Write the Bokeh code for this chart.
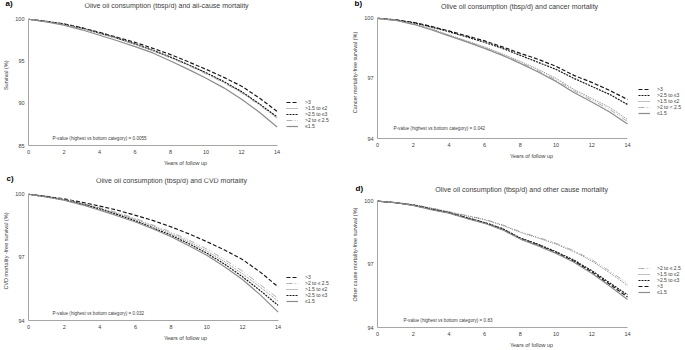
from bokeh.plotting import figure
from bokeh.models import Range1d, FixedTicker, Label, Legend, LegendItem, ColumnDataSource, Title
from bokeh.layouts import column, row
from bokeh.embed import file_html
from bokeh.resources import INLINE

years = list(range(0, 15))

# Panel a: all-cause mortality
a_gt3 = [100, 99.75, 99.45, 99.0, 98.45, 97.85, 97.25, 96.55, 95.8, 94.95, 94.05, 93.1, 92.05, 90.65, 89.05]
a_gt15_2 = [100, 99.75, 99.4, 98.95, 98.4, 97.8, 97.1, 96.35, 95.5, 94.6, 93.6, 92.55, 91.35, 89.9, 88.3]
a_gt25_3 = [100, 99.75, 99.4, 98.95, 98.35, 97.75, 97.05, 96.3, 95.5, 94.6, 93.65, 92.6, 91.4, 89.95, 88.4]
a_gt2_25 = [100, 99.72, 99.35, 98.9, 98.3, 97.7, 97.0, 96.25, 95.4, 94.5, 93.5, 92.45, 91.25, 89.8, 88.25]
a_le15 = [100, 99.7, 99.3, 98.75, 98.1, 97.45, 96.75, 96.0, 95.05, 94.05, 93.0, 91.85, 90.5, 88.95, 87.2]

# Panel b: cancer mortality
b_gt3 = [100, 99.92, 99.8, 99.6, 99.37, 99.12, 98.87, 98.57, 98.25, 97.95, 97.6, 97.15, 96.8, 96.4, 95.95]
b_gt25_3 = [100, 99.92, 99.78, 99.57, 99.33, 99.07, 98.8, 98.5, 98.15, 97.8, 97.45, 97.0, 96.6, 96.2, 95.7]
b_gt15_2 = [100, 99.9, 99.73, 99.48, 99.17, 98.87, 98.57, 98.22, 97.85, 97.45, 97.0, 96.45, 96.0, 95.55, 94.95]
b_gt2_25 = [100, 99.9, 99.72, 99.46, 99.15, 98.85, 98.54, 98.18, 97.8, 97.38, 96.92, 96.38, 95.92, 95.45, 94.85]
b_le15 = [100, 99.9, 99.7, 99.43, 99.12, 98.82, 98.5, 98.15, 97.75, 97.32, 96.85, 96.3, 95.82, 95.32, 94.72]

# Panel c: CVD mortality
c_gt3 = [100, 99.9, 99.78, 99.62, 99.44, 99.24, 99.0, 98.75, 98.45, 98.12, 97.75, 97.35, 96.9, 96.3, 95.6]
c_gt2_25 = [100, 99.9, 99.76, 99.58, 99.36, 99.12, 98.85, 98.53, 98.2, 97.82, 97.4, 96.9, 96.35, 95.7, 95.05]
c_gt15_2 = [100, 99.9, 99.75, 99.56, 99.33, 99.08, 98.8, 98.48, 98.13, 97.74, 97.3, 96.8, 96.22, 95.58, 94.92]
c_gt25_3 = [100, 99.88, 99.73, 99.53, 99.3, 99.03, 98.74, 98.4, 98.05, 97.65, 97.2, 96.68, 96.08, 95.42, 94.72]
c_le15 = [100, 99.87, 99.72, 99.5, 99.24, 98.97, 98.68, 98.35, 97.98, 97.55, 97.1, 96.55, 95.95, 95.22, 94.4]

# Panel d: other cause mortality
d_gt2_25 = [100, 99.93, 99.84, 99.68, 99.5, 99.32, 99.14, 98.88, 98.55, 98.28, 98.0, 97.65, 97.22, 96.68, 96.1]
d_gt15_2 = [100, 99.93, 99.83, 99.67, 99.49, 99.3, 99.12, 98.85, 98.52, 98.25, 97.96, 97.6, 97.16, 96.6, 96.0]
d_gt25_3 = [100, 99.93, 99.82, 99.63, 99.46, 99.22, 98.99, 98.7, 98.25, 97.95, 97.6, 97.2, 96.7, 96.12, 95.55]
d_gt3 = [100, 99.93, 99.81, 99.62, 99.45, 99.2, 98.97, 98.67, 98.22, 97.92, 97.56, 97.15, 96.64, 96.05, 95.45]
d_le15 = [100, 99.93, 99.8, 99.6, 99.43, 99.18, 98.95, 98.64, 98.2, 97.88, 97.52, 97.1, 96.58, 95.97, 95.33]

x_ticks = [0, 2, 4, 6, 8, 10, 12, 14]
a_yticks = [85, 90, 95, 100]
bcd_yticks = [94, 97, 100]

FONT = "Liberation Sans"
TXT = "#404040"

STYLES = {
    "gt3": dict(color="#1a1a1a", dash="4 2", width=1.2),
    "gt25_3": dict(color="#1a1a1a", dash="2 1", width=1.2),
    "gt15_2": dict(color="#808080", dash="1 1", width=1.0),
    "gt2_25": dict(color="#b0b0b0", dash="6 2 1 2 1 2", width=1.0),
    "le15": dict(color="#8c8c8c", dash="solid", width=1.2),
}

BOTTOM_BORDER = 21  # px below the x-axis (same in every panel)


def make_panel(width, height, top, px_x0, px_x14, px_ytop, ylo, yhi, yticks, ylabel,
               title, letter, letter_standoff, series, legend_pos, title_pos, letter_x,
               pval, pval_pos):
    # frame spans from the y-axis to the right edge and from 'top' down to the x-axis,
    # so that the title and legend sit inside the frame; axis lines are bounded to the data
    px_ybot = height - BOTTOM_BORDER
    xscale = (px_x14 - px_x0) / 14.0
    x_end = 14 + (width - px_x14) / xscale
    yscale = (px_ybot - px_ytop) / float(yhi - ylo)
    y_end = yhi + (px_ytop - top) / yscale
    p = figure(width=width, height=height, output_backend="svg", toolbar_location=None,
               title_location=None,
               x_range=Range1d(0, x_end), y_range=Range1d(ylo, y_end),
               min_border_left=px_x0, min_border_right=0,
               min_border_top=top, min_border_bottom=BOTTOM_BORDER)
    p.outline_line_color = None
    p.xgrid.grid_line_color = None
    p.ygrid.grid_line_color = None
    p.xaxis.ticker = FixedTicker(ticks=x_ticks)
    p.yaxis.ticker = FixedTicker(ticks=yticks)
    p.xaxis.bounds = (0, 14)
    p.yaxis.bounds = (ylo, yhi)
    for ax in (p.xaxis[0], p.yaxis[0]):
        ax.axis_line_color = "#a6a6a6"
        ax.major_tick_line_color = None
        ax.minor_tick_line_color = None
        ax.major_tick_out = 0
        ax.major_tick_in = 0
        ax.minor_tick_out = 0
        ax.minor_tick_in = 0
        ax.major_label_text_font = FONT
        ax.major_label_text_font_size = "5.5px"
        ax.major_label_text_color = TXT
        ax.major_label_standoff = 4
        ax.axis_label_text_font = FONT
        ax.axis_label_text_font_size = "5.5px"
        ax.axis_label_text_font_style = "normal"
        ax.axis_label_text_color = TXT
        ax.axis_label_standoff = 3
    p.xaxis.axis_label = "Years of follow up"
    p.yaxis.axis_label = ylabel

    items = []
    for label, key, vals in series:
        st = STYLES[key]
        src = ColumnDataSource(dict(x=years, y=vals))
        r = p.line("x", "y", source=src, line_color=st["color"], line_dash=st["dash"],
                   line_width=st["width"])
        items.append(LegendItem(label=label, renderers=[r]))
    leg = Legend(items=items, location=legend_pos, orientation="vertical",
                 background_fill_alpha=0, border_line_color=None,
                 padding=0, margin=0, spacing=0,
                 glyph_width=12, glyph_height=6, label_height=6,
                 label_standoff=7, label_text_font=FONT, label_text_font_size="5px",
                 label_text_color=TXT)
    p.add_layout(leg, "center")

    p.add_layout(Label(x=title_pos[0], y=title_pos[1], x_units="screen", y_units="screen",
                       text=title, text_font=FONT, text_font_size="7px", text_color=TXT,
                       text_align="center", text_baseline="middle"))
    try:
        lt = Title(text=letter, text_font=FONT, text_font_size="8px", text_color="#000000",
                   text_font_style="bold", align="left", offset=letter_x - px_x0,
                   standoff=letter_standoff, vertical_align="bottom")
    except Exception:
        lt = Title(text=letter, text_font=FONT, text_font_size="8px", text_color="#000000",
                   text_font_style="bold", align="left", offset=letter_x - px_x0,
                   standoff=0, vertical_align="bottom")
    p.add_layout(lt, "above")
    p.add_layout(Label(x=pval_pos[0], y=pval_pos[1], x_units="screen", y_units="screen",
                       text=pval, text_font=FONT, text_font_size="4.6px", text_color=TXT,
                       text_align="left", text_baseline="middle"))
    return p


pa = make_panel(342, 168, 3, 25, 276, 19, 85, 100, a_yticks, "Survival  (%)",
                "Olive oil consumption  (tbsp/d) and all-cause mortality", "a)", -9,
                [(">3", "gt3", a_gt3), (">1.5 to \u22642", "gt15_2", a_gt15_2),
                 (">2.5 to \u22643", "gt25_3", a_gt25_3), (">2 to \u2264 2.5", "gt2_25", a_gt2_25),
                 ("\u22641.5", "le15", a_le15)],
                (258, 16), (139, 140), 2,
                "P-value (highest vs bottom category) = 0.0055", (24, 7))

pb = make_panel(343, 161, 3, 35, 285, 18, 94, 100, bcd_yticks, "Cancer mortality-free  survival  (%)",
                "Olive oil consumption  (tbsp/d) and cancer mortality", "b)", -8,
                [(">3", "gt3", b_gt3), (">2.5 to \u22643", "gt25_3", b_gt25_3),
                 (">1.5 to \u22642", "gt15_2", b_gt15_2), (">2 to < 2.5", "gt2_25", b_gt2_25),
                 ("\u22641.5", "le15", b_le15)],
                (261, 22), (143, 132), 12,
                "P-value (highest vs bottom category) = 0.042", (16, 10))

pc = make_panel(342, 175, 10, 25, 277, 26, 94, 100, bcd_yticks, "CVD mortality -free  survival  (%)",
                "Olive oil consumption  (tbsp/d) and CVD mortality", "c)", -9,
                [(">3", "gt3", c_gt3), (">2 to \u2264 2.5", "gt2_25", c_gt2_25),
                 (">1.5 to \u22642", "gt15_2", c_gt15_2), (">2.5 to \u22643", "gt25_3", c_gt25_3),
                 ("\u22641.5", "le15", c_le15)],
                (258, 16), (144, 140), 3,
                "P-value (highest vs bottom category) = 0.032", (24, 7))

pd_ = make_panel(343, 182, 10, 35, 285, 33, 94, 100, bcd_yticks, "Other cause mortality-free  survival  (%)",
                 "Olive oil consumption  (tbsp/d) and other cause mortality", "d)", -28,
                 [(">2 to \u2264 2.5", "gt2_25", d_gt2_25), (">1.5 to \u22642", "gt15_2", d_gt15_2),
                  (">2.5 to \u22643", "gt25_3", d_gt25_3), (">3", "gt3", d_gt3),
                  ("\u22641.5", "le15", d_le15)],
                 (261, 32), (145, 138), 13,
                 "P-value (highest vs bottom category) = 0.83", (26, 7))

layout = column(row(pa, pb), row(pc, pd_))

open("out.html", "w").write(file_html(layout, INLINE))
